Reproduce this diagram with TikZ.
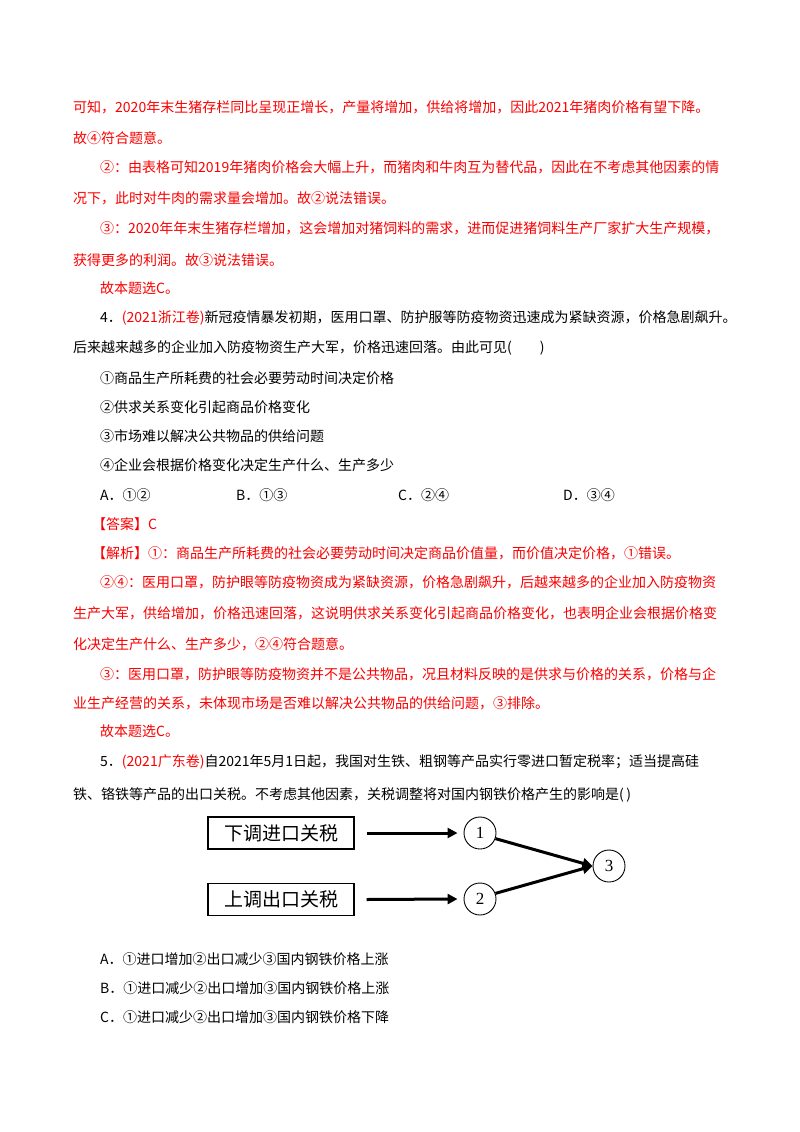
\documentclass[tikz,border=0pt]{standalone}
\usepackage{fontspec}
\setmainfont{Noto Sans CJK SC}
\newfontfamily\numfont{Liberation Serif}
\usetikzlibrary{arrows.meta}
\definecolor{ansred}{RGB}{250,0,0}
\tikzset{
  ln/.style={anchor=west,inner sep=0pt,font=\fontsize{14}{14}\selectfont},
  rd/.style={ln,text=ansred},
  bx/.style={draw,line width=1.1pt,minimum width=146pt,minimum height=32pt,inner sep=0pt,font=\fontsize{19}{20}\selectfont},
  cc/.style={draw,circle,line width=0.9pt,minimum size=32pt,inner sep=0pt,font=\numfont\fontsize{17}{18}\selectfont},
  ar/.style={line width=3pt,-{Triangle[length=10pt,width=10pt]}}
}
\begin{document}
\begin{tikzpicture}[x=1pt,y=-1pt]
\useasboundingbox (0,0) rectangle (800,1132);
\fill[white] (0,0) rectangle (800,1132);
\node[rd] (l1) at (73,107) {可知，2020年末生猪存栏同比呈现正增长，产量将增加，供给将增加，因此2021年猪肉价格有望下降。};
\node[rd] (l2) at (73,138) {故④符合题意。};
\node[rd] (l3) at (100,167) {②：由表格可知2019年猪肉价格会大幅上升，而猪肉和牛肉互为替代品，因此在不考虑其他因素的情};
\node[rd] (l4) at (73,198) {况下，此时对牛肉的需求量会增加。故②说法错误。};
\node[rd] (l5) at (100,228) {③：2020年年末生猪存栏增加，这会增加对猪饲料的需求，进而促进猪饲料生产厂家扩大生产规模，};
\node[rd] (l6) at (73,260) {获得更多的利润。故③说法错误。};
\node[rd] (l7) at (100,288) {故本题选C。};
\node[ln] (l8) at (100,318) {4．\textcolor{ansred}{(2021浙江卷)}新冠疫情暴发初期，医用口罩、防护服等防疫物资迅速成为紧缺资源，价格急剧飙升。};
\node[ln] (l9) at (73,348) {后来越来越多的企业加入防疫物资生产大军，价格迅速回落。由此可见(\hspace{2em})};
\node[ln] (l10) at (100,378) {①商品生产所耗费的社会必要劳动时间决定价格};
\node[ln] (l11) at (100,407) {②供求关系变化引起商品价格变化};
\node[ln] (l12) at (100,436) {③市场难以解决公共物品的供给问题};
\node[ln] (l13) at (100,465) {④企业会根据价格变化决定生产什么、生产多少};
\node[ln] (oa) at (100,495) {A．①②};
\node[ln] (ob) at (236,495) {B．①③};
\node[ln] (oc) at (398,495) {C．②④};
\node[ln] (od) at (563,495) {D．③④};
\node[rd] (l14) at (92,524) {【答案】C};
\node[rd] (l15) at (92,553) {【解析】①：商品生产所耗费的社会必要劳动时间决定商品价值量，而价值决定价格，①错误。};
\node[rd] (l16) at (100,582) {②④：医用口罩，防护眼等防疫物资成为紧缺资源，价格急剧飙升，后越来越多的企业加入防疫物资};
\node[rd] (l17) at (73,613) {生产大军，供给增加，价格迅速回落，这说明供求关系变化引起商品价格变化，也表明企业会根据价格变};
\node[rd] (l18) at (73,644) {化决定生产什么、生产多少，②④符合题意。};
\node[rd] (l19) at (100,674) {③：医用口罩，防护眼等防疫物资并不是公共物品，况且材料反映的是供求与价格的关系，价格与企};
\node[rd] (l20) at (73,703) {业生产经营的关系，未体现市场是否难以解决公共物品的供给问题，③排除。};
\node[rd] (l21) at (100,731) {故本题选C。};
\node[ln] (l22) at (100,762) {5．\textcolor{ansred}{(2021广东卷)}自2021年5月1日起，我国对生铁、粗钢等产品实行零进口暂定税率；适当提高硅};
\node[ln] (l23) at (73,795) {铁、铬铁等产品的出口关税。不考虑其他因素，关税调整将对国内钢铁价格产生的影响是(\,)};
\node[bx] (b1) at (281,833) {下调进口关税};
\node[bx] (b2) at (281,899.5) {上调出口关税};
\node[cc] (c1) at (480,833) {1};
\node[cc] (c2) at (480,899) {2};
\node[cc] (c3) at (609,866) {3};
\draw[ar] ([xshift=12pt]b1.east) -- ([xshift=-6pt]c1.west);
\draw[ar] ([xshift=12pt]b2.east) -- ([xshift=-6pt]c2.west);
\draw[ar] (c1.-20) -- (c3.west);
\draw[ar] (c2.20) -- (c3.west);
\node[ln] (oA) at (100,959) {A．①进口增加②出口减少③国内钢铁价格上涨};
\node[ln] (oB) at (100,988) {B．①进口减少②出口增加③国内钢铁价格上涨};
\node[ln] (oC) at (100,1017) {C．①进口减少②出口增加③国内钢铁价格下降};
\end{tikzpicture}
\end{document}
